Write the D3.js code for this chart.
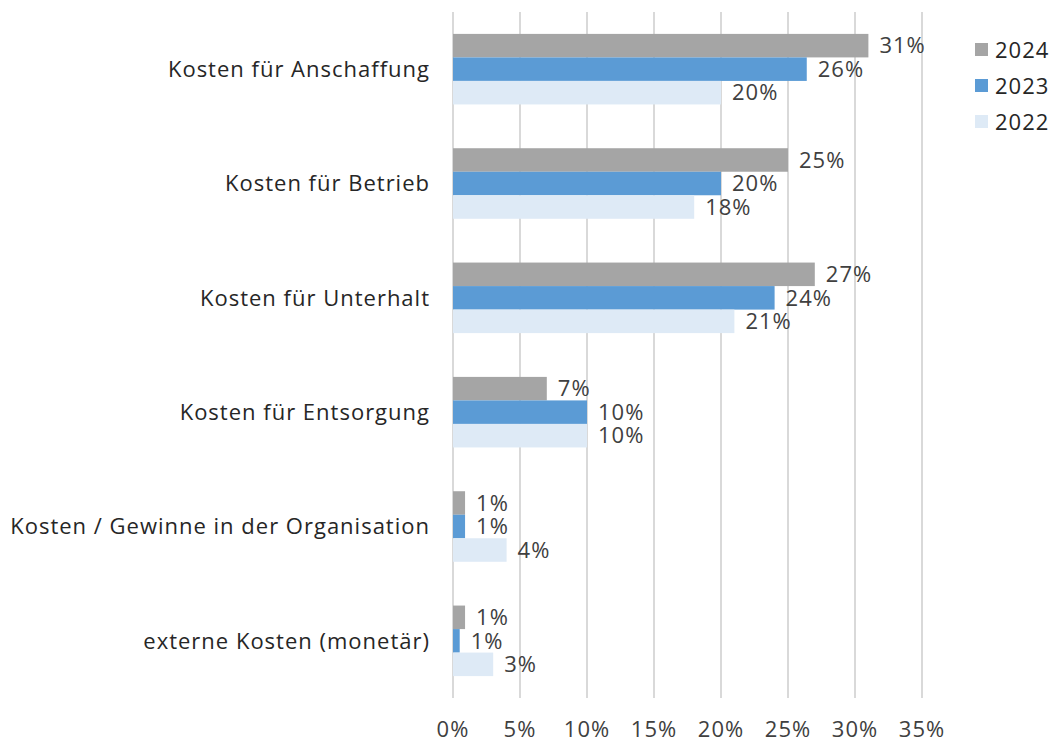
<!DOCTYPE html>
<html>
<head>
<meta charset="utf-8">
<script src="https://cdn.jsdelivr.net/npm/d3@7"></script>
<style>
body { margin: 0; background: #fff; }
svg text { font-family: "Open Sans", "Noto Sans", sans-serif; letter-spacing: 1px; }
</style>
</head>
<body>
<svg id="chart" width="1054" height="742"></svg>
<script>
// data
var categories = ["Kosten für Anschaffung", "Kosten für Betrieb", "Kosten für Unterhalt",
	"Kosten für Entsorgung", "Kosten / Gewinne in der Organisation", "externe Kosten (monetär)"];
var years = ["2024", "2023", "2022"];
var values2024 = [31, 25, 27, 7, 0.9, 0.9];
var values2023 = [26.4, 20, 24, 10, 0.9, 0.5];
var values2022 = [20, 18, 21, 10, 4, 3];
var ticks = [0, 5, 10, 15, 20, 25, 30, 35];
var colors = ["#a5a5a5", "#5b9bd5", "#deeaf6"];

var series = [values2024, values2023, values2022];

var svg = d3.select("#chart");
var plotLeft = 453, plotRight = 922, plotTop = 12, plotBottom = 698;
var fs = 22;

var x = d3.scaleLinear().domain([0, 35]).range([plotLeft, plotRight]);
var y = d3.scaleBand().domain(categories).range([plotTop, plotBottom])
	.paddingInner(0.383).paddingOuter(0.1915);
var ysub = d3.scaleBand().domain(years).range([0, y.bandwidth()]);

// grid
svg.append("g").selectAll("line")
	.data(ticks)
	.enter().append("line")
	.attr("x1", function(d){ return x(d); })
	.attr("x2", function(d){ return x(d); })
	.attr("y1", plotTop)
	.attr("y2", plotBottom)
	.attr("stroke", "#d9d9d9")
	.attr("stroke-width", 2);

// tick labels
svg.append("g").selectAll("text")
	.data(ticks)
	.enter().append("text")
	.attr("x", function(d){ return x(d); })
	.attr("y", 737)
	.attr("text-anchor", "middle")
	.attr("font-size", fs)
	.attr("fill", "#404040")
	.text(function(d){ return d + "%"; });

// category labels
svg.append("g").selectAll("text")
	.data(categories)
	.enter().append("text")
	.attr("x", 430)
	.attr("y", function(d){ return y(d) + y.bandwidth() / 2; })
	.attr("dy", "0.35em")
	.attr("text-anchor", "end")
	.attr("font-size", fs)
	.attr("fill", "#262626")
	.text(function(d){ return d; });

// bars
years.forEach(function(yr, si){
	var g = svg.append("g");
	var rows = categories.map(function(c, i){ return {cat: c, v: series[si][i]}; });
	g.selectAll("rect")
		.data(rows)
		.enter().append("rect")
		.attr("x", x(0))
		.attr("y", function(d){ return y(d.cat) + ysub(yr); })
		.attr("width", function(d){ return x(d.v) - x(0); })
		.attr("height", ysub.bandwidth())
		.attr("fill", colors[si]);
	g.selectAll("text")
		.data(rows)
		.enter().append("text")
		.attr("x", function(d){ return x(d.v) + 11; })
		.attr("y", function(d){ return y(d.cat) + ysub(yr) + ysub.bandwidth() / 2; })
		.attr("dy", "0.35em")
		.attr("font-size", fs)
		.attr("fill", "#404040")
		.text(function(d){ return Math.round(d.v) + "%"; });
});

// legend
var leg = svg.append("g").selectAll("g")
	.data(years)
	.enter().append("g")
	.attr("transform", function(d, i){ return "translate(975," + (50 + i * 36) + ")"; });
leg.append("rect")
	.attr("x", 0).attr("y", -7)
	.attr("width", 13).attr("height", 13)
	.attr("fill", function(d, i){ return colors[i]; });
leg.append("text")
	.attr("x", 20)
	.attr("dy", "0.35em")
	.attr("font-size", fs)
	.attr("fill", "#262626")
	.text(function(d){ return d; });
</script>
</body>
</html>
